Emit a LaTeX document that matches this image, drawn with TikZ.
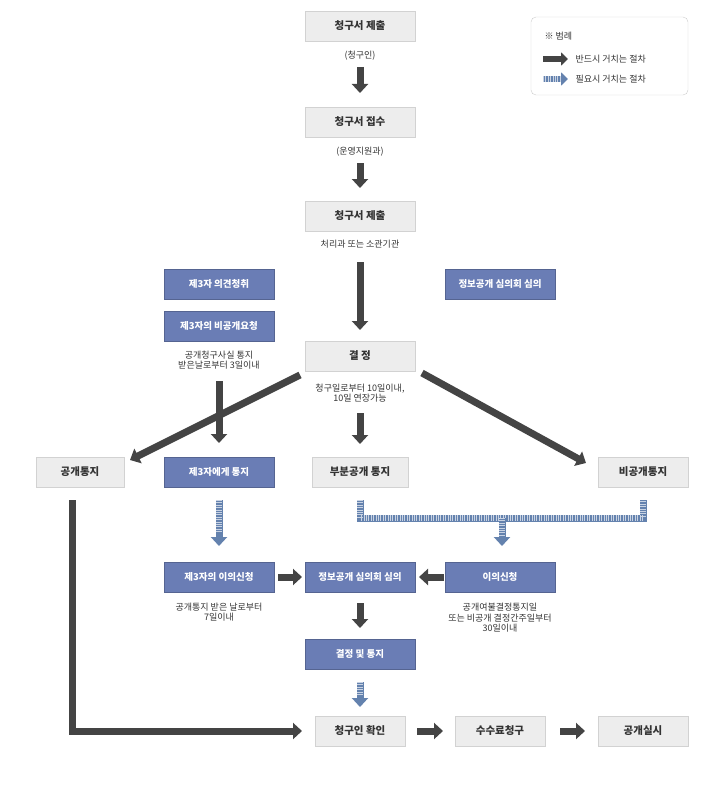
\documentclass[tikz,border=0pt]{standalone}
\usepackage{fontspec}
\setmainfont{Noto Sans CJK KR}
\usetikzlibrary{arrows.meta,shadows}
\definecolor{bluebox}{HTML}{6A7DB5}
\definecolor{darkarr}{HTML}{444444}
\definecolor{hatch}{HTML}{6482AE}
\begin{document}
\begin{tikzpicture}[x=1pt,y=-1pt,
 graybox/.style={draw=gray!35,fill=gray!14,minimum width=#1,minimum height=30pt,font=\fontsize{10.5}{12}\selectfont\bfseries,text=black!80,drop shadow={opacity=0.2,shadow xshift=1pt,shadow yshift=-1pt}},
 graybox/.default=110pt,
 bluebox/.style={draw=bluebox!80!black,fill=bluebox,minimum width=#1,minimum height=30pt,font=\fontsize{9.5}{11}\selectfont\bfseries,text=white},
 bluebox/.default=110pt,
 note/.style={font=\fontsize{9}{10.5}\selectfont,text=black!80,align=center},
 must/.style={draw=darkarr,line width=7pt,-{Triangle[width=16pt,length=9pt]}},
 need/.style={draw=hatch,line width=7pt,-{Triangle[width=16pt,length=9pt]}},
 needover/.style={draw=white!65!hatch,line width=6pt,dash pattern=on 0.8pt off 1.6pt}]
\useasboundingbox (0,0) rectangle (713,789);
% legend
\node[draw=gray!40,rounded corners=5pt,minimum width=157pt,minimum height=78pt] (leg) at (609.5,56) {};
\node[note,anchor=west] (legt) at (541,36) {※ 범례};
\node[note,anchor=west] (l1) at (572,59) {반드시 거치는 절차};
\node[note,anchor=west] (l2) at (572,79) {필요시 거치는 절차};
\coordinate (la1) at (543,59); \coordinate (la2) at (568,59);
\coordinate (lb1) at (543,79); \coordinate (lb2) at (568,79);
\draw[must,line width=6pt,-{Triangle[width=13pt,length=7pt]}] (la1) -- (la2);
\draw[need,line width=6pt,-{Triangle[width=13pt,length=7pt]}] (lb1) -- (lb2);
\draw[needover] (lb1) -- ++(17,0);
% column
\node[graybox] (s1) at (360,26) {청구서 제출};
\node[note] (t1) at (360,56) {(청구인)};
\node[graybox] (s2) at (360,122) {청구서 접수};
\node[note] (t2) at (360,152) {(운영지원과)};
\node[graybox] (s3) at (360,216) {청구서 제출};
\node[note] (t3) at (360,244) {처리과 또는 소관기관};
\node[bluebox] (b1) at (219,284) {제3자 의견청취};
\node[bluebox] (b2) at (219,326) {제3자의 비공개요청};
\node[note] (t4) at (219,360) {공개청구사실 통지\\받은날로부터 3일이내};
\node[bluebox] (b3) at (500,284) {정보공개 심의회 심의};
\node[graybox] (d) at (360,356) {결 정};
\node[note] (t5) at (360,393) {청구일로부터 10일이내,\\10일 연장가능};
\node[graybox=88pt] (r1) at (80,472) {공개통지};
\node[bluebox] (r2) at (219,472) {제3자에게 통지};
\node[graybox=96pt] (r3) at (360,472) {부분공개 통지};
\node[graybox=90pt] (r4) at (643,472) {비공개통지};
\node[bluebox] (m1) at (219,577) {제3자의 이의신청};
\node[bluebox] (m2) at (360,577) {정보공개 심의회 심의};
\node[bluebox] (m3) at (500,577) {이의신청};
\node[note] (t6) at (219,612) {공개통지 받은 날로부터\\7일이내};
\node[note] (t7) at (500,618) {공개여불결정통지일\\또는 비공개 결정간주일부터\\30일이내};
\node[bluebox] (e) at (360,654) {결정 및 통지};
\node[graybox=90pt] (f1) at (360,731) {청구인 확인};
\node[graybox=90pt] (f2) at (500,731) {수수료청구};
\node[graybox=90pt] (f3) at (643,731) {공개실시};
% arrows
\coordinate (a1) at (360,67); \coordinate (a1e) at (360,93);
\draw[must] (a1) -- (a1e);
\coordinate (a2) at (360,163); \coordinate (a2e) at (360,188);
\draw[must] (a2) -- (a2e);
\coordinate (a3) at (360,262); \coordinate (a3e) at (360,330);
\draw[must] (a3) -- (a3e);
\coordinate (dl) at (300,375); \coordinate (dle) at (130,460);
\coordinate (dr) at (422,373); \coordinate (dre) at (586,463);
\draw[must] (dl) -- (dle);
\draw[must] (dr) -- (dre);
\coordinate (a4) at (219,381); \coordinate (a4e) at (219,443);
\draw[must] (a4) -- (a4e);
\coordinate (a5) at (360,413); \coordinate (a5e) at (360,444);
\draw[must] (a5) -- (a5e);
\coordinate (c1) at (278,577); \coordinate (c1e) at (302,577);
\draw[must] (c1) -- (c1e);
\coordinate (c2) at (444,577); \coordinate (c2e) at (419,577);
\draw[must] (c2) -- (c2e);
\coordinate (a6) at (360,603); \coordinate (a6e) at (360,628);
\draw[must] (a6) -- (a6e);
\coordinate (a7) at (417,731); \coordinate (a7e) at (443,731);
\draw[must] (a7) -- (a7e);
\coordinate (a8) at (560,731); \coordinate (a8e) at (585,731);
\draw[must] (a8) -- (a8e);
\coordinate (p0) at (72,500); \coordinate (p1) at (302,731);
\draw[must] (p0) -- (72,731) -- (p1);
% hatched
\coordinate (h1) at (219,500); \coordinate (h2) at (219,546);
\draw[need] (h1) -- (h2); \draw[needover] (h1) -- (219,533);
\coordinate (h3) at (360,500); \coordinate (h4) at (643,500);
\coordinate (h5) at (502,518); \coordinate (h6) at (502,546);
\draw[hatch,line width=7pt] (h3) -- (360,518) -- (643,518) -- (h4);
\draw[needover] (h3) -- (360,518) -- (643,518) -- (h4);
\draw[need] (h5) -- (h6); \draw[needover] (h5) -- (502,535);
\coordinate (h7) at (360,682); \coordinate (h8) at (360,707);
\draw[need] (h7) -- (h8); \draw[needover] (h7) -- (360,696);
\end{tikzpicture}
\end{document}
